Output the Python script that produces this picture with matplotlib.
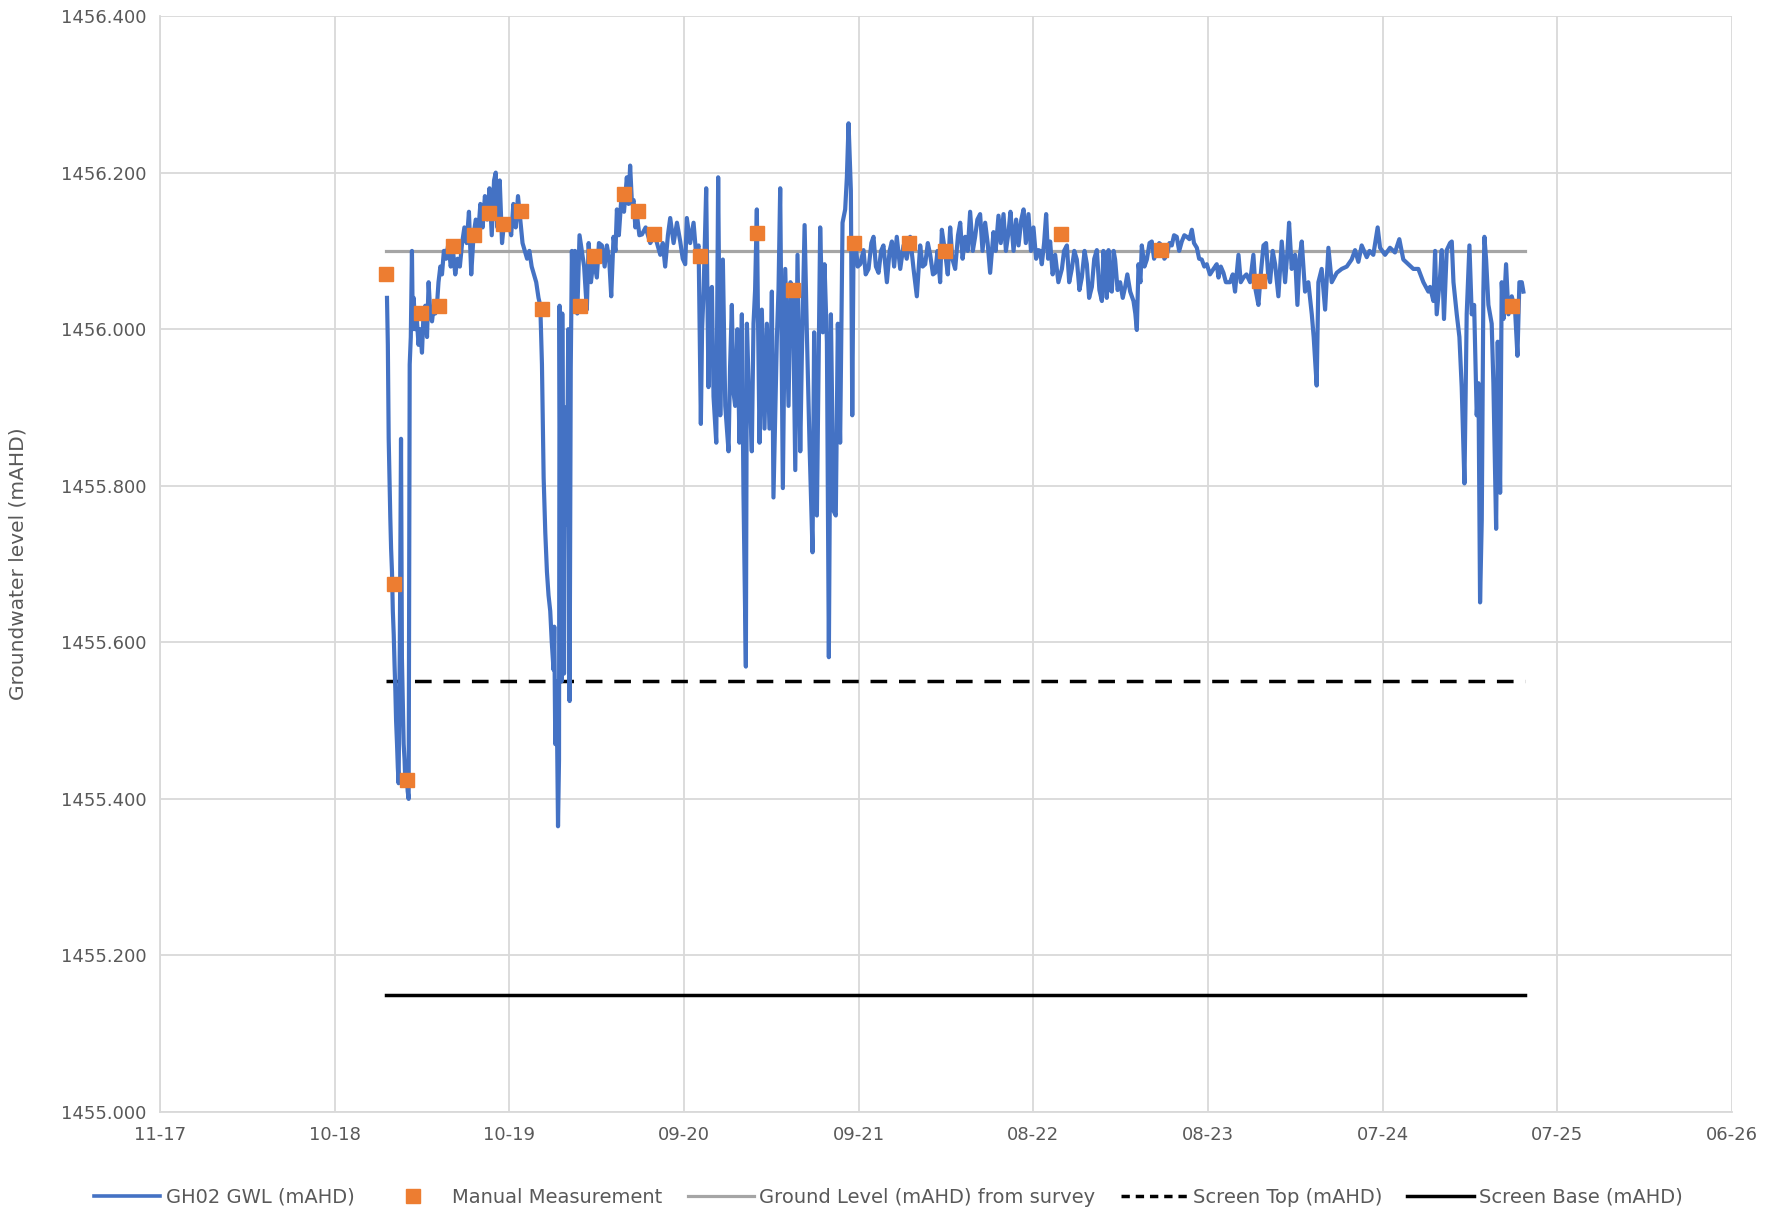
import matplotlib
matplotlib.use("Agg")
import numpy as np
import matplotlib.pyplot as plt
from matplotlib.lines import Line2D
from matplotlib.ticker import FormatStrFormatter

# ---------------- data (days since 2017-11-01, level mAHD) ----------------
AXIS_START = np.datetime64("2017-11-01T00:00")
TICK_STEP_DAYS = 350
tick_labels = ["11-17", "10-18", "10-19", "09-20", "09-21", "08-22",
               "08-23", "07-24", "07-25", "06-26"]

gwl_days = [
    # 2019 start and first drawdown
    454.8, 456.5, 458.2, 460.0, 461.4, 463.0, 464.8, 466.5, 468.3, 470.0, 471.5, 473.0,
    474.9, 476.5, 478.1, 480.5, 482.9, 484.7, 486.5, 488.2, 490.0, 491.6, 494.0, 496.2,
    498.2, 500.3, 502.5, 504.8, 506.5, 508.3, 511.5, 514.9, 518.0, 521.0, 524.9, 528.0,
    531.6, 535.0, 538.2, 541.6, 545.0, 548.5, 551.5, 554.9, 558.0, 561.7, 565.0, 568.8,
    571.8, 573.4,
    577.9, 582.5, 587.1, 591.6, 596.2, 600.8, 605.3, 609.9, 614.5, 619.0, 623.6, 628.2,
    632.7, 637.3, 641.9, 646.4, 651.0, 655.6, 660.2, 664.7, 669.3, 672.7, 676.1, 680.7,
    685.3, 689.9, 694.4, 699.0, 703.6, 708.1, 712.7, 717.3, 721.8, 726.4, 731.0, 735.5,
    740.1, 744.7,
    749.2, 753.8, 758.4, 762.0, 765.3, 768.7, 772.0, 775.3, 778.5, 781.9, 785.0, 788.5,
    790.0, 792.0, 794.5, 797.5, 799.5, 800.6, 802.5, 804.5, 806.0, 808.0, 809.5, 812.0,
    815.0, 818.0, 820.7, 823.0, 825.3, 827.5, 831.5, 836.1, 840.6, 845.2, 849.8,
    # 2020 - 2021
    855.2, 858.9, 863.5, 868.7, 875.3, 879.5, 885.4, 890.9, 895.4, 900.0, 904.1, 908.7,
    912.6, 915.5, 919.4, 925.4, 929.7, 935.4, 938.8, 942.0, 945.7, 948.9, 952.5, 955.5,
    960.5, 965.6, 973.1, 982.3, 991.4, 1002.4, 1007.4, 1012.2, 1017.7, 1022.3, 1029.1, 1035.8,
    1042.4, 1047.4, 1052.4, 1055.6, 1062.3, 1069.1, 1073.7, 1079.2, 1083.7, 1086.2, 1089.2, 1094.4,
    1099.0, 1102.2, 1105.9, 1109.1, 1114.6, 1118.4, 1122.6, 1127.8, 1132.6, 1139.2, 1142.2, 1145.8,
    1149.0, 1152.5, 1157.0, 1161.1, 1165.9, 1169.1, 1171.4, 1173.9, 1176.0, 1179.4, 1182.6, 1185.8,
    1189.2, 1192.4, 1195.9, 1198.1, 1201.3, 1205.9, 1211.2, 1216.0, 1221.2, 1226.0, 1229.2, 1236.1,
    1239.3, 1242.7, 1248.0, 1252.8, 1259.4, 1263.3, 1268.1, 1272.9,
    1277.4, 1282.9, 1286.1, 1291.6, 1296.1, 1301.6, 1307.5, 1310.7, 1316.2, 1322.8, 1328.1, 1331.5,
    1336.3, 1340.2, 1344.3, 1349.6, 1354.1, 1358.2, 1362.8, 1367.6, 1372.9, 1376.3, 1379.7, 1384.3,
    1387.1, 1389.6, 1393.7, 1398.0, 1403.1, 1409.6, 1414.0, 1419.7, 1425.4, 1429.7, 1434.5, 1439.8,
    1444.8, 1449.6, 1456.5, 1461.9, 1466.5, 1471.0, 1476.3, 1483.2, 1489.8, 1496.2, 1503.1, 1509.9,
    1516.5, 1523.2, 1528.2, 1533.2, 1538.5, 1543.3, 1548.8, 1553.3, 1557.9, 1563.2, 1566.6, 1573.2,
    1578.5, 1583.3, 1587.6, 1593.3, 1599.0, 1603.4, 1608.2, 1613.4, 1618.4, 1623.3, 1628.7, 1633.3,
    1637.8, 1643.3, 1648.1, 1653.4, 1658.4, 1663.4, 1670.1, 1674.4, 1680.1, 1684.7, 1690.2, 1695.0,
    1700.2,
    # 2022 - 2023
    1704.1, 1710.3, 1715.5, 1720.3, 1725.8, 1730.4, 1734.9, 1740.2, 1745.2, 1750.2, 1755.5, 1760.3,
    1763.5, 1766.9, 1771.5, 1775.6, 1779.5, 1783.6, 1788.6, 1793.7, 1800.1, 1807.2, 1811.5, 1817.2,
    1821.8, 1827.0, 1832.0, 1837.1, 1842.3, 1847.1, 1852.6, 1857.2, 1861.7, 1867.2, 1872.0, 1877.2,
    1882.3, 1887.3, 1890.3, 1893.9, 1897.1, 1900.6, 1904.0, 1907.2, 1910.8, 1913.8, 1918.8, 1923.9,
    1929.1, 1933.9, 1938.3, 1944.0, 1950.6, 1954.3, 1957.3, 1960.7, 1964.5, 1967.3, 1972.6, 1977.4,
    1982.8, 1987.3, 1991.9, 1997.4, 2002.2, 2007.4, 2012.5, 2017.5, 2022.7, 2027.3, 2031.9, 2037.3,
    2042.2, 2047.4, 2052.5, 2057.5, 2062.7, 2067.6, 2071.9, 2077.6, 2082.2, 2087.4, 2092.5, 2097.5,
    2103.9, 2111.0, 2117.4, 2121.0,
    2125.6, 2130.9, 2135.8, 2144.1, 2149.6, 2154.1, 2161.0, 2165.6, 2171.0, 2177.0, 2184.3, 2190.9,
    2195.3, 2201.0, 2205.6, 2211.1, 2216.3, 2220.4, 2224.3, 2229.6, 2234.4, 2241.0, 2247.7, 2254.4,
    2259.2, 2262.4, 2267.7, 2274.3, 2279.1, 2283.2, 2287.8, 2294.4, 2301.0, 2307.9, 2311.7, 2314.5,
    2317.7, 2321.1, 2327.7, 2334.6, 2341.2, 2347.8, 2357.9, 2367.9, 2378.0, 2387.8, 2394.6, 2401.3,
    2407.9, 2418.0, 2423.7, 2431.2, 2439.9, 2444.7, 2454.7, 2464.6, 2474.6, 2483.3, 2491.3, 2501.3,
    2511.4, 2521.4, 2531.5, 2541.5,
    # 2024 - 2025
    2544.9, 2551.6, 2555.0, 2558.2, 2564.8, 2568.3, 2572.8, 2578.3, 2584.9, 2588.4, 2591.8, 2598.4,
    2603.7, 2608.3, 2613.8, 2618.3, 2623.8, 2628.4, 2633.2, 2638.4, 2641.9, 2645.1, 2648.5, 2651.7,
    2653.8, 2657.2, 2661.8, 2668.4, 2671.8, 2677.3, 2680.5, 2685.3, 2688.5, 2691.9, 2697.2, 2702.0,
    2708.6, 2715.2, 2720.0, 2723.9, 2728.7, 2731.9,
]

gwl_level = [
    1456.04, 1455.98, 1455.86, 1455.80, 1455.76, 1455.72, 1455.69, 1455.64, 1455.61, 1455.57, 1455.54, 1455.50,
    1455.47, 1455.44, 1455.42, 1455.60, 1455.86, 1455.58, 1455.52, 1455.47, 1455.45, 1455.42, 1455.44, 1455.41,
    1455.40, 1455.955, 1455.99, 1456.10, 1456.00, 1456.04, 1456.00, 1456.01, 1455.98, 1456.00, 1455.97, 1456.02,
    1456.03, 1455.99, 1456.06, 1456.02, 1456.01, 1456.03, 1456.02, 1456.03, 1456.06, 1456.08, 1456.07, 1456.10,
    1456.10, 1456.09,
    1456.11, 1456.08, 1456.10, 1456.07, 1456.09, 1456.08, 1456.11, 1456.13, 1456.11, 1456.15, 1456.07, 1456.12,
    1456.14, 1456.12, 1456.16, 1456.13, 1456.17, 1456.14, 1456.18, 1456.12, 1456.19, 1456.20, 1456.13, 1456.19,
    1456.11, 1456.14, 1456.13, 1456.14, 1456.12, 1456.16, 1456.13, 1456.17, 1456.14, 1456.11, 1456.10, 1456.09,
    1456.10, 1456.08,
    1456.07, 1456.06, 1456.04, 1456.03, 1455.955, 1455.81, 1455.74, 1455.69, 1455.66, 1455.64, 1455.60, 1455.565,
    1455.62, 1455.47, 1455.55, 1455.365, 1455.45, 1456.03, 1455.75, 1455.55, 1456.02, 1455.75, 1455.56, 1455.90,
    1455.75, 1456.00, 1455.525, 1455.95, 1456.10, 1456.03, 1456.10, 1456.02, 1456.12, 1456.10, 1456.08,
    1456.025, 1456.11, 1456.06, 1456.09, 1456.066, 1456.11, 1456.107, 1456.08, 1456.107, 1456.09, 1456.042, 1456.118,
    1456.10, 1456.153, 1456.12, 1456.177, 1456.15, 1456.194, 1456.16, 1456.209, 1456.16, 1456.165, 1456.13, 1456.147,
    1456.12, 1456.121, 1456.13, 1456.11, 1456.12, 1456.095, 1456.11, 1456.080, 1456.12, 1456.142, 1456.11, 1456.136,
    1456.112, 1456.09, 1456.083, 1456.142, 1456.11, 1456.136, 1456.10, 1456.107, 1455.879, 1456.00, 1456.048, 1456.180,
    1455.926, 1456.05, 1456.054, 1455.914, 1455.855, 1456.194, 1455.890, 1456.089, 1455.902, 1455.844, 1455.95, 1456.031,
    1455.92, 1455.902, 1456.00, 1455.855, 1456.019, 1455.791, 1455.680, 1455.569, 1456.007, 1455.93, 1455.902, 1455.844,
    1456.007, 1456.05, 1456.153, 1456.02, 1455.855, 1456.025, 1455.873, 1456.007, 1455.873, 1456.048, 1455.785, 1455.990,
    1456.05, 1456.180, 1455.797, 1456.077, 1455.902, 1456.06, 1456.048, 1455.820,
    1456.095, 1455.844, 1455.966, 1456.133, 1455.996, 1455.850, 1455.715, 1455.996, 1455.762, 1456.130, 1455.996, 1456.083,
    1455.984, 1455.581, 1456.019, 1455.768, 1455.762, 1456.007, 1455.855, 1456.136, 1456.153, 1456.194, 1456.263, 1456.177,
    1455.890, 1456.101, 1456.110, 1456.08, 1456.083, 1456.101, 1456.07, 1456.077, 1456.11, 1456.118, 1456.08, 1456.072,
    1456.10, 1456.107, 1456.060, 1456.10, 1456.112, 1456.08, 1456.118, 1456.077, 1456.107, 1456.09, 1456.118, 1456.077,
    1456.042, 1456.107, 1456.08, 1456.083, 1456.11, 1456.095, 1456.07, 1456.072, 1456.10, 1456.060, 1456.127, 1456.098,
    1456.07, 1456.130, 1456.09, 1456.077, 1456.12, 1456.136, 1456.09, 1456.118, 1456.10, 1456.150, 1456.10, 1456.118,
    1456.14, 1456.147, 1456.10, 1456.136, 1456.11, 1456.072, 1456.124, 1456.10, 1456.145, 1456.11, 1456.147, 1456.10,
    1456.124,
    1456.15, 1456.10, 1456.14, 1456.107, 1456.14, 1456.153, 1456.11, 1456.147, 1456.10, 1456.130, 1456.09, 1456.101,
    1456.10, 1456.083, 1456.11, 1456.147, 1456.09, 1456.112, 1456.07, 1456.095, 1456.06, 1456.077, 1456.10, 1456.107,
    1456.06, 1456.077, 1456.10, 1456.089, 1456.05, 1456.066, 1456.10, 1456.083, 1456.04, 1456.054, 1456.09, 1456.101,
    1456.05, 1456.036, 1456.10, 1456.077, 1456.04, 1456.101, 1456.05, 1456.048, 1456.10, 1456.089, 1456.05, 1456.060,
    1456.04, 1456.054, 1456.07, 1456.048, 1456.036, 1456.02, 1455.999, 1456.083, 1456.06, 1456.107, 1456.08, 1456.089,
    1456.11, 1456.112, 1456.09, 1456.101, 1456.11, 1456.107, 1456.09, 1456.095, 1456.11, 1456.107, 1456.12, 1456.118,
    1456.10, 1456.112, 1456.12, 1456.118, 1456.115, 1456.127, 1456.11, 1456.104, 1456.09, 1456.089, 1456.08, 1456.083,
    1456.07, 1456.077, 1456.083, 1456.066,
    1456.08, 1456.072, 1456.06, 1456.060, 1456.07, 1456.048, 1456.095, 1456.06, 1456.066, 1456.07, 1456.060, 1456.095,
    1456.05, 1456.031, 1456.07, 1456.107, 1456.110, 1456.07, 1456.060, 1456.10, 1456.083, 1456.042, 1456.112, 1456.060,
    1456.10, 1456.136, 1456.077, 1456.095, 1456.031, 1456.09, 1456.112, 1456.048, 1456.060, 1456.019, 1455.99, 1455.961,
    1455.928, 1456.060, 1456.077, 1456.025, 1456.104, 1456.060, 1456.072, 1456.077, 1456.080, 1456.089, 1456.101, 1456.086,
    1456.107, 1456.092, 1456.10, 1456.095, 1456.130, 1456.104, 1456.095, 1456.104, 1456.098, 1456.115, 1456.089, 1456.083,
    1456.077, 1456.077, 1456.060, 1456.048,
    1456.054, 1456.036, 1456.10, 1456.019, 1456.066, 1456.101, 1456.013, 1456.101, 1456.110, 1456.112, 1456.060, 1456.019,
    1455.990, 1455.926, 1455.803, 1456.019, 1456.107, 1456.019, 1456.031, 1455.890, 1455.931, 1455.651, 1455.756, 1456.048,
    1456.118, 1456.089, 1456.031, 1456.007, 1455.931, 1455.745, 1455.984, 1455.791, 1456.060, 1456.013, 1456.083, 1456.019,
    1456.042, 1456.025, 1455.966, 1456.060, 1456.060, 1456.048,
]

manual_days = [452.3, 468.3, 495.7, 523.1, 559.7, 587.1, 628.2, 660.2, 687.6, 724.1, 765.2, 840.6,
               870.3, 929.7, 957.1, 989.1, 1082.8, 1197.0, 1267.8, 1391.1, 1500.8, 1573.9, 1804.6,
               2005.6, 2202.1, 2709.3]
manual_level = [1456.071, 1455.674, 1455.424, 1456.021, 1456.030, 1456.106, 1456.120, 1456.149,
                1456.135, 1456.151, 1456.026, 1456.030, 1456.093, 1456.173, 1456.151, 1456.122,
                1456.094, 1456.123, 1456.050, 1456.110, 1456.110, 1456.100, 1456.122, 1456.101,
                1456.061, 1456.030]

ref_days = [452.3, 2734.3]          # start / end of the reference lines
ground_level = [1456.10, 1456.10]
screen_top = [1455.55, 1455.55]
screen_base = [1455.15, 1455.15]

series_labels = ["GH02 GWL (mAHD)", "Manual Measurement", "Ground Level (mAHD) from survey",
                 "Screen Top (mAHD)", "Screen Base (mAHD)"]

assert len(gwl_days) == len(gwl_level)


def to_dates(days):
    return AXIS_START + np.round(np.asarray(days) * 24 * 60).astype("timedelta64[m]")


# ---------------- figure ----------------
fig = plt.figure(figsize=(17.88, 12.16), dpi=100)
ax = fig.add_axes([0.0895, 0.0855, 0.8792, 0.9013])

BLUE = "#4472C4"
ORANGE = "#ED7D31"
GREY = "#A5A5A5"
GRID = "#D9D9D9"
TXT = "#595959"

ax.plot(to_dates(gwl_days), gwl_level, color=BLUE, lw=3.0, solid_joinstyle="round", zorder=3)
ax.plot(to_dates(ref_days), ground_level, color=GREY, lw=2.3, zorder=2)
ax.plot(to_dates(ref_days), screen_top, color="black", lw=2.5, dashes=(4.8, 3.4), zorder=2)
ax.plot(to_dates(ref_days), screen_base, color="black", lw=2.5, zorder=2)
ax.plot(to_dates(manual_days), manual_level, ls="none", marker="s", ms=9.5,
        color=ORANGE, mec=ORANGE, zorder=4)

tick_dates = AXIS_START + np.arange(len(tick_labels)) * np.timedelta64(TICK_STEP_DAYS, "D")
ax.set_xticks(tick_dates, tick_labels)
ax.set_xlim(tick_dates[0], tick_dates[-1])
ax.set_ylim(1455.0, 1456.4)
ax.set_yticks(np.arange(1455.0, 1456.401, 0.2))
ax.yaxis.set_major_formatter(FormatStrFormatter("%.3f"))

ax.grid(True, color=GRID, lw=1.3)
ax.set_axisbelow(True)
for s in ["top", "right"]:
    ax.spines[s].set_visible(False)
for s in ["left", "bottom"]:
    ax.spines[s].set_color(GRID)
    ax.spines[s].set_linewidth(1.3)
ax.tick_params(length=0, labelsize=13, labelcolor=TXT, pad=10)

ax.set_ylabel("Groundwater level (mAHD)", fontsize=14.5, color=TXT, labelpad=24)

handles = [
    Line2D([], [], color=BLUE, lw=2.6),
    Line2D([], [], ls="none", marker="s", ms=9.5, color=ORANGE),
    Line2D([], [], color=GREY, lw=2.3),
    Line2D([], [], color="black", lw=2.5, dashes=(2.4, 1.7)),
    Line2D([], [], color="black", lw=2.5),
]
fig.legend(handles, series_labels, loc="center", bbox_to_anchor=(0.497, 0.0155), ncol=5,
           frameon=False, fontsize=14, labelcolor=TXT, handlelength=3.4, handletextpad=0.3,
           columnspacing=1.3)

fig.savefig("out.png", dpi=100)
